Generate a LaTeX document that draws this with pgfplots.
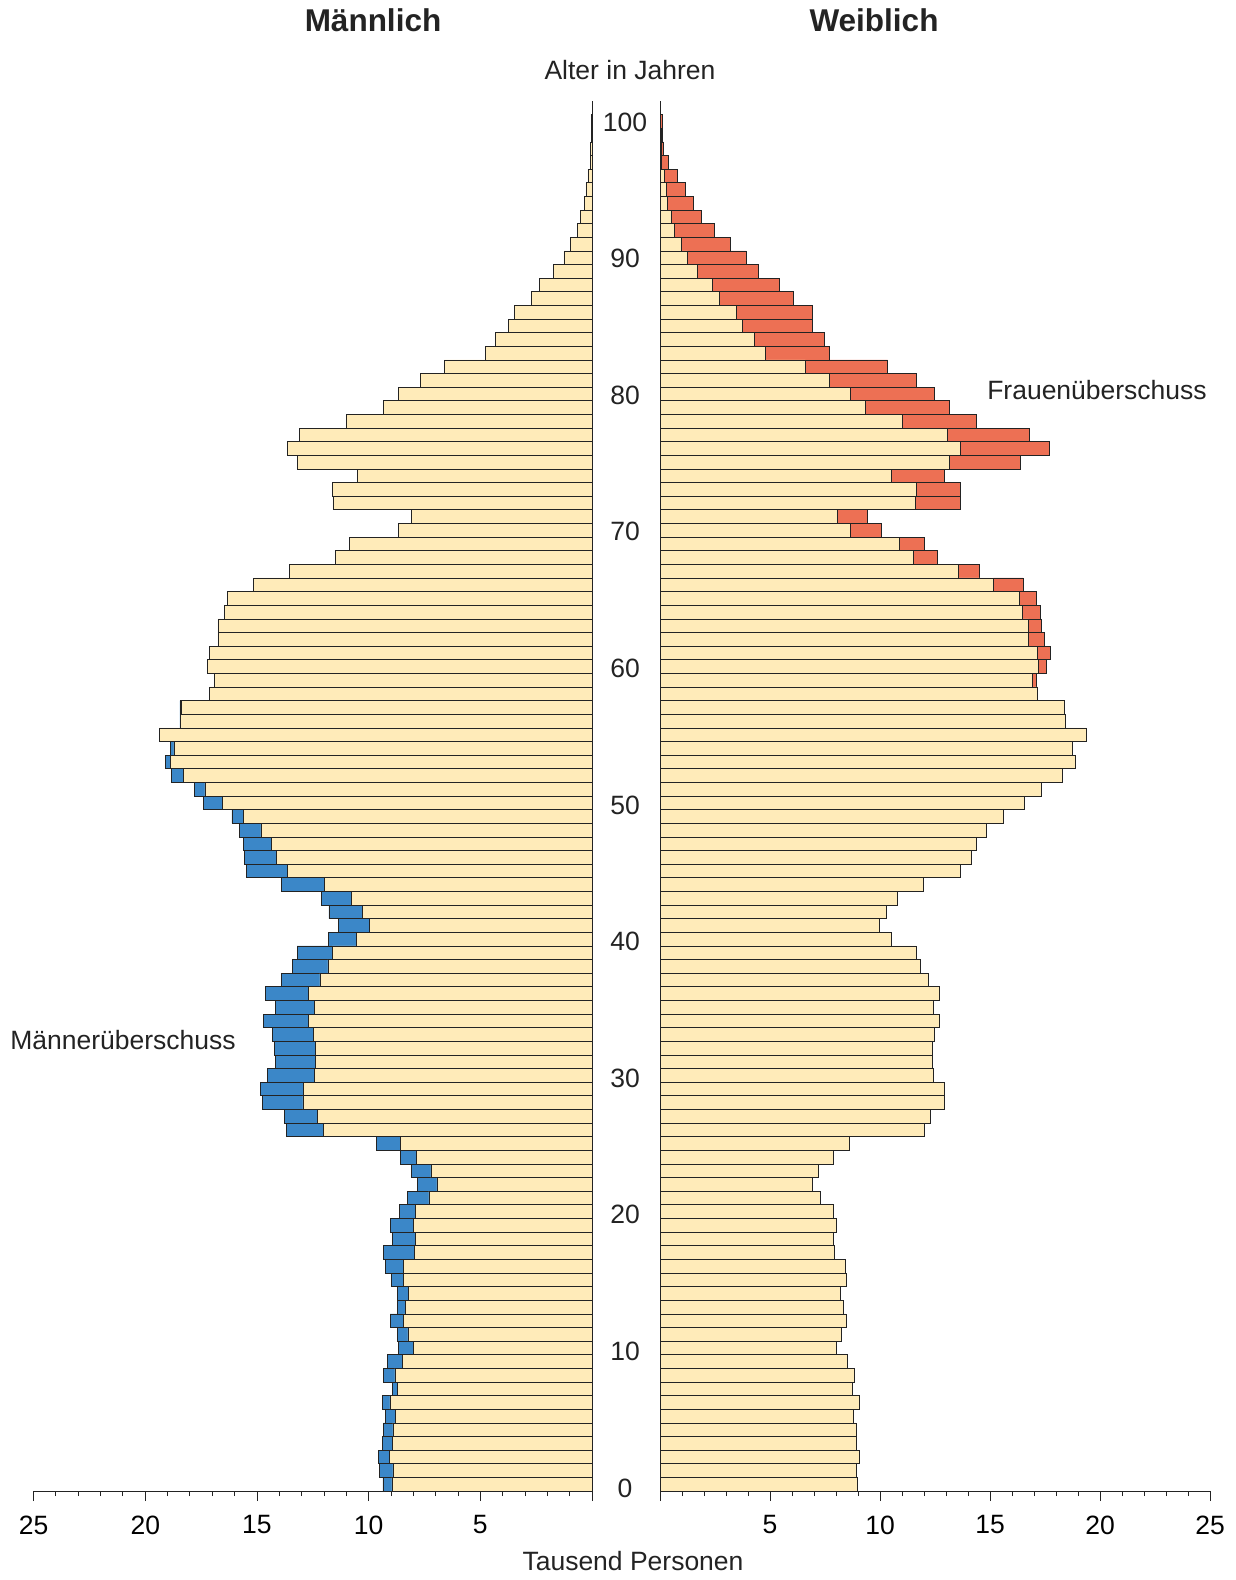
\documentclass[border=0pt]{standalone}
\usepackage{pgfplots}
\pgfplotsset{compat=1.18}
\usepackage{pgfplotstable}
\usepackage{fontspec}
\setmainfont{Liberation Sans}
\definecolor{pale}{RGB}{255,235,185}
\definecolor{mblue}{RGB}{59,135,200}
\definecolor{fred}{RGB}{237,112,84}
\definecolor{edge}{RGB}{35,35,35}
\pgfplotstableread{
age pale mex fex
0 8.96 0.40 0
1 8.91 0.61 0
2 9.07 0.48 0
3 8.94 0.45 0
4 8.91 0.43 0
5 8.79 0.46 0
6 9.05 0.33 0
7 8.73 0.20 0
8 8.82 0.52 0
9 8.50 0.66 0
10 8.01 0.66 0
11 8.24 0.46 0
12 8.46 0.58 0
13 8.34 0.36 0
14 8.21 0.51 0
15 8.45 0.54 0
16 8.44 0.81 0
17 7.94 1.40 0
18 7.89 1.04 0
19 8.01 1.03 0
20 7.90 0.72 0
21 7.30 0.96 0
22 6.94 0.86 0
23 7.21 0.88 0
24 7.86 0.70 0
25 8.59 1.07 0
26 12.03 1.65 0
27 12.31 1.45 0
28 12.94 1.82 0
29 12.91 1.92 0
30 12.41 2.13 0
31 12.39 1.78 0
32 12.40 1.83 0
33 12.49 1.82 0
34 12.71 1.99 0
35 12.43 1.74 0
36 12.71 1.92 0
37 12.18 1.73 0
38 11.82 1.61 0
39 11.63 1.57 0
40 10.53 1.27 0
41 9.97 1.39 0
42 10.28 1.50 0
43 10.77 1.35 0
44 11.99 1.92 0
45 13.64 1.84 0
46 14.14 1.41 0
47 14.37 1.22 0
48 14.82 0.96 0
49 15.59 0.53 0
50 16.56 0.83 0
51 17.33 0.47 0
52 18.28 0.56 0
53 18.89 0.20 0
54 18.72 0.14 0
55 19.38 0 0
56 18.43 0.02 0
57 18.38 0.07 0
58 17.13 0 0.03
59 16.92 0 0.20
60 17.20 0 0.34
61 17.14 0 0.59
62 16.75 0 0.73
63 16.75 0 0.59
64 16.46 0 0.81
65 16.34 0 0.78
66 15.15 0 1.35
67 13.54 0 0.97
68 11.50 0 1.10
69 10.87 0 1.15
70 8.66 0 1.38
71 8.08 0 1.35
72 11.60 0 2.03
73 11.63 0 2.02
74 10.52 0 2.39
75 13.17 0 3.23
76 13.64 0 4.07
77 13.08 0 3.72
78 11.00 0 3.40
79 9.33 0 3.81
80 8.66 0 3.83
81 7.68 0 3.99
82 6.61 0 3.74
83 4.78 0 2.91
84 4.31 0 3.15
85 3.73 0 3.19
86 3.49 0 3.43
87 2.71 0 3.35
88 2.36 0 3.07
89 1.71 0 2.74
90 1.26 0 2.65
91 0.96 0 2.23
92 0.64 0 1.81
93 0.50 0 1.37
94 0.35 0 1.17
95 0.27 0 0.89
96 0.18 0 0.61
97 0.08 0 0.31
98 0.06 0 0.10
99 0.04 0 0.06
100 0.03 0 0.09
}\pyr
\begin{document}
\begin{tikzpicture}
\useasboundingbox (0pt,0pt) rectangle (1235pt,-1580pt);
\pgfplotsset{
  pyr/.style={
    scale only axis, xbar stacked, bar width=1,
    height=1390pt, ymin=-0.5, ymax=101.5,
    xmin=0, xmax=25,
    axis x line*=bottom, axis y line=none,
    xtick={0,5,...,25}, xticklabels={,5,10,15,20,25},
    minor x tick num=4,
    tick align=outside,
    major tick length=10pt, minor tick length=5pt,
    every tick/.style={edge, line width=0.9pt},
    x axis line style={edge, line width=0.9pt,-},
    xticklabel style={font=\fontsize{26.5}{30}\selectfont, yshift=-11pt},
    /pgf/number format/assume math mode=true,
    clip=false,
  }
}
\begin{axis}[pyr, x dir=reverse, width=558.4pt, at={(592pt,-1491pt)}, anchor=south east]
 \addplot[fill=pale, draw=edge, line width=0.7pt] table[x=pale,y=age]{\pyr};
 \addplot[fill=mblue, draw=edge, line width=0.7pt] table[x=mex,y=age]{\pyr};
 \draw[edge, line width=0.9pt] (axis cs:0,-0.5) -- (axis cs:0,101.5);
\end{axis}
\begin{axis}[pyr, width=550pt, at={(660pt,-1491pt)}, anchor=south west]
 \addplot[fill=pale, draw=edge, line width=0.7pt] table[x=pale,y=age]{\pyr};
 \addplot[fill=fred, draw=edge, line width=0.7pt] table[x=fex,y=age]{\pyr};
 \draw[edge, line width=0.9pt] (axis cs:0,-0.5) -- (axis cs:0,101.5);
\end{axis}
\foreach \a in {0,10,...,100}{
  \node[font=\fontsize{26.5}{30}\selectfont, text=edge] at (625pt,{-(1488-13.661*\a)*1pt}) {\a};
}
\node[font=\bfseries\fontsize{31.5}{36}\selectfont, text=edge] at (373pt,-20pt) {Männlich};
\node[font=\bfseries\fontsize{31.5}{36}\selectfont, text=edge] at (874pt,-20pt) {Weiblich};
\node[font=\fontsize{26.5}{30}\selectfont, text=edge] at (630pt,-70pt) {Alter in Jahren};
\node[font=\fontsize{26.5}{30}\selectfont, text=edge] at (633pt,-1561pt) {Tausend Personen};
\node[font=\fontsize{26.5}{30}\selectfont, text=edge] at (123pt,-1040pt) {Männerüberschuss};
\node[font=\fontsize{26.5}{30}\selectfont, text=edge] at (1097pt,-390pt) {Frauenüberschuss};
\end{tikzpicture}
\end{document}
